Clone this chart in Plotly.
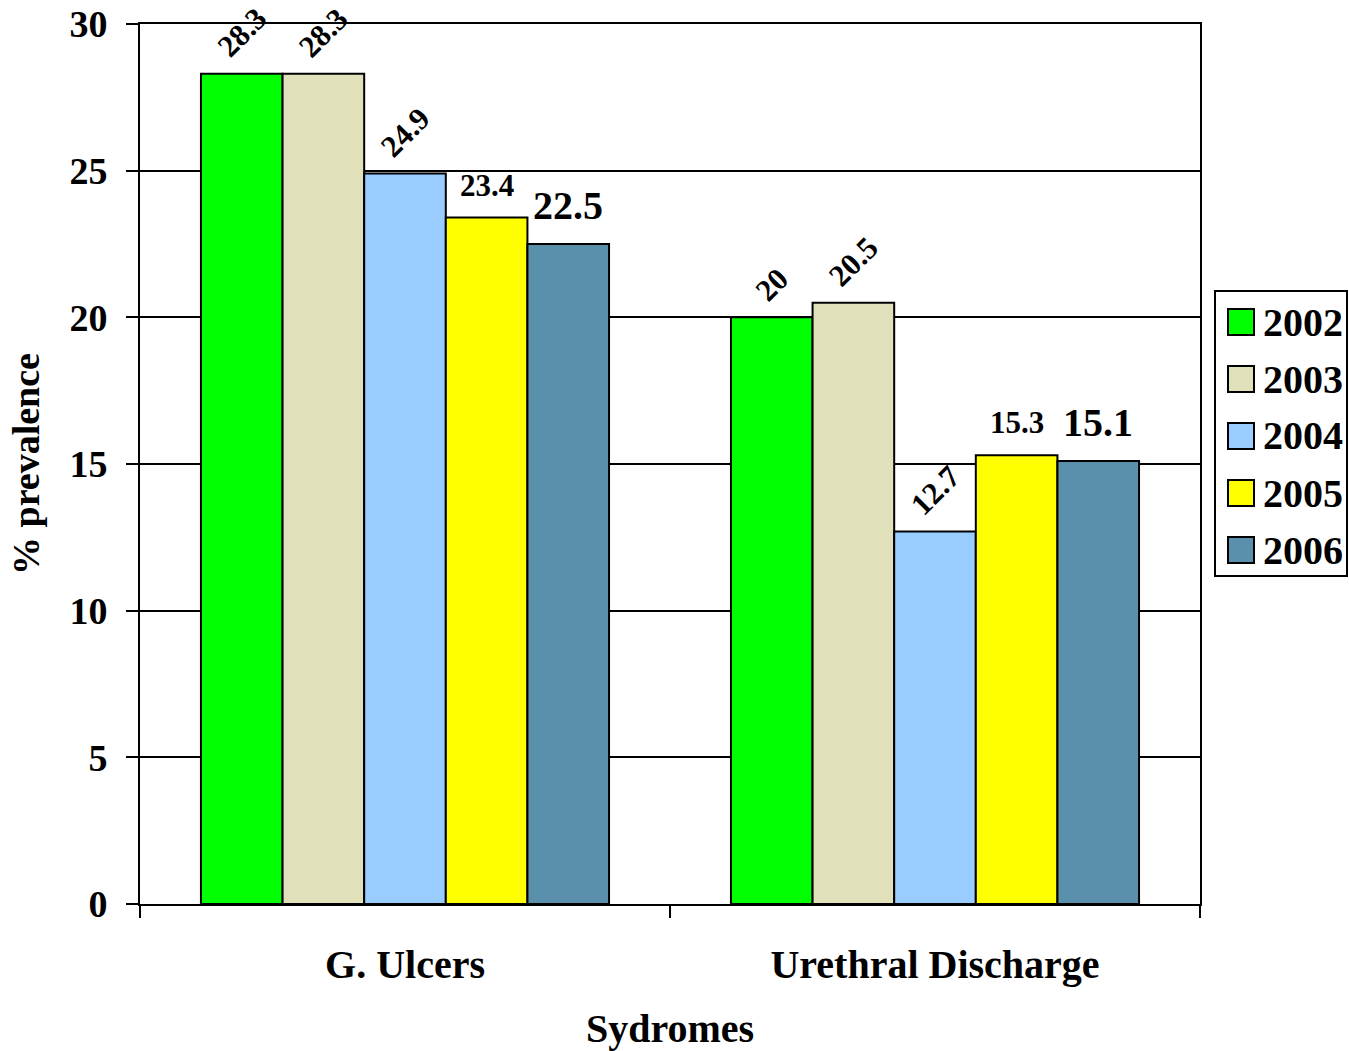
import plotly.graph_objects as go

# Syndrome categories and yearly prevalence (%)
syndromes = ["G. Ulcers", "Urethral Discharge"]
years = ["2002", "2003", "2004", "2005", "2006"]
prev_2002 = [28.3, 20.0]
prev_2003 = [28.3, 20.5]
prev_2004 = [24.9, 12.7]
prev_2005 = [23.4, 15.3]
prev_2006 = [22.5, 15.1]
y_ticks = [0, 5, 10, 15, 20, 25, 30]

series = [prev_2002, prev_2003, prev_2004, prev_2005, prev_2006]
colors = ["#00FF00", "#E0E0BA", "#99CCFF", "#FFFF00", "#5A90AB"]
label_angle = [-45, -45, -45, 0, 0]
label_size = [31, 31, 31, 31, 40]
label_lift = [7, 7, 7, 13, 14]

FONT = "Liberation Serif, Times New Roman, serif"
BAR_GAP = 0.23

fig = go.Figure()
for yr, vals, col in zip(years, series, colors):
    fig.add_trace(go.Bar(
        name=yr, x=syndromes, y=vals,
        marker=dict(color=col, line=dict(color="black", width=2)),
        showlegend=False,
    ))

# value labels above each bar
n = len(years)
bar_w = (1 - BAR_GAP) / n
annotations = []
for j, vals in enumerate(series):
    for i, v in enumerate(vals):
        annotations.append(dict(
            x=i + (j - (n - 1) / 2) * bar_w, y=v, xref="x", yref="y",
            text=f"{v:g}", showarrow=False,
            textangle=label_angle[j],
            xanchor="center", yanchor="bottom", yshift=label_lift[j],
            font=dict(family=FONT, size=label_size[j], color="black", weight="bold"),
        ))

# legend drawn as swatches + labels beside the plot
shapes = []
leg_x0, leg_x1 = 1215, 1347
leg_y0, leg_y1 = 291, 576
L, T, W, H = 140, 24, 1060, 880


def px(x):
    return (x - L) / W


def py(y):
    return (T + H - y) / H


shapes.append(dict(type="rect", xref="paper", yref="paper",
                   x0=px(leg_x0), x1=px(leg_x1), y0=py(leg_y1), y1=py(leg_y0),
                   line=dict(color="black", width=2), fillcolor="white"))
for k, (yr, col) in enumerate(zip(years, colors)):
    cy = 322 + 57 * k
    shapes.append(dict(type="rect", xref="paper", yref="paper",
                       x0=px(1228), x1=px(1254), y0=py(cy + 13), y1=py(cy - 13),
                       line=dict(color="black", width=2), fillcolor=col))
    annotations.append(dict(
        x=px(1261), y=py(cy), xref="paper", yref="paper", text=yr,
        showarrow=False, xanchor="left", yanchor="middle",
        font=dict(family=FONT, size=40, color="black", weight="bold"),
    ))

fig.update_layout(
    width=1349, height=1051,
    margin=dict(l=L, r=1349 - L - W, t=T, b=1051 - T - H, autoexpand=False),
    paper_bgcolor="white", plot_bgcolor="white",
    barmode="group", bargap=BAR_GAP, bargroupgap=0,
    font=dict(family=FONT, color="black"),
    annotations=annotations, shapes=shapes,
    xaxis=dict(
        type="category", tickson="boundaries", ticks="outside",
        ticklen=12, tickwidth=2, tickcolor="black", automargin=False,
        showline=True, linecolor="black", linewidth=2, mirror=True,
        showgrid=False, ticklabelstandoff=24,
        tickfont=dict(family=FONT, size=40, color="black", weight="bold"),
        title=dict(text="Sydromes", standoff=30,
                   font=dict(family=FONT, size=40, color="black", weight="bold")),
    ),
    yaxis=dict(
        range=[0, 30], tickvals=y_ticks, ticks="outside",
        ticklen=12, tickwidth=2, tickcolor="black", automargin=False,
        showline=True, linecolor="black", linewidth=2, mirror=True,
        showgrid=True, gridcolor="black", gridwidth=2, zeroline=False,
        ticklabelstandoff=11,
        tickfont=dict(family=FONT, size=38, color="black", weight="bold"),
        title=dict(text="% prevalence", standoff=18,
                   font=dict(family=FONT, size=38, color="black", weight="bold")),
    ),
)

fig.write_html("out.html")
